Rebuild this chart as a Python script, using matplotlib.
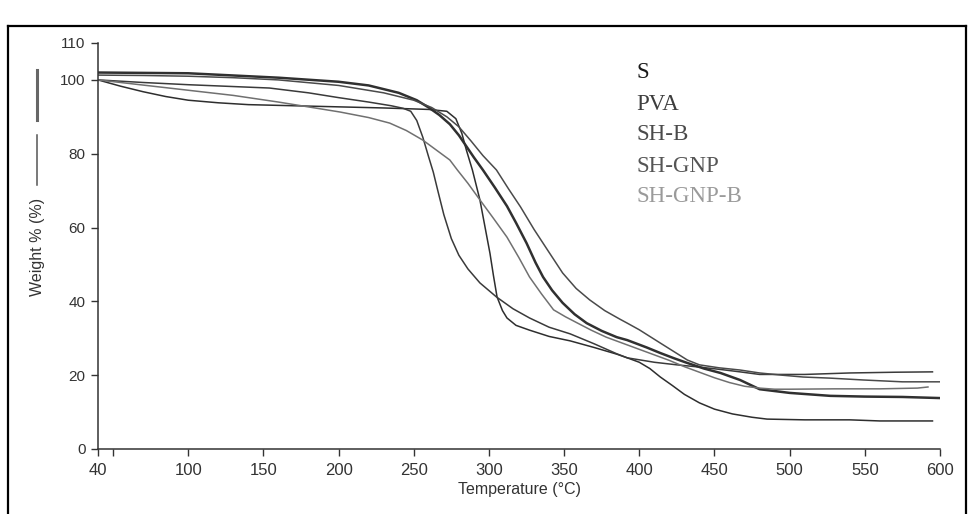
import matplotlib.pyplot as plt
from matplotlib.lines import Line2D

# TGA curves (temperature in C, weight in %)
t_s = [40, 55, 70, 85, 100, 120, 140, 170, 200, 230, 260, 272, 278, 282, 285, 289, 294, 297, 300.7,
       303, 305.4, 309, 312, 318, 327, 340, 354, 370, 385, 392, 400, 407, 414, 422, 430, 440, 450,
       462, 475, 485, 510, 540, 560, 595]
w_s = [100, 98.3, 96.8, 95.5, 94.5, 93.8, 93.3, 93, 92.7, 92.4, 92, 91.5, 89.5, 85.5, 81, 75.6, 67.5,
       61, 53, 47, 41.2, 37.5, 35.5, 33.5, 32.2, 30.5, 29.3, 27.5, 25.7, 24.7, 23.5, 21.8, 19.5, 17.2,
       14.8, 12.5, 10.8, 9.5, 8.6, 8.1, 7.9, 7.9, 7.6, 7.6]

t_pva = [40, 70, 100, 130, 154, 180, 200, 220, 235, 243, 248, 252, 256, 260, 263, 266, 270, 275, 280,
         286, 294, 305, 316, 327, 340, 354, 370, 385, 392, 410, 425, 440, 455, 467, 480, 510, 540, 570, 595]
w_pva = [100, 99.3, 98.7, 98.2, 97.8, 96.5, 95.2, 94, 93, 92.3, 91.5, 89, 84.5, 79, 75, 70, 63.5, 57,
         52.5, 48.8, 45, 41.2, 38, 35.5, 33, 31.2, 28.5, 25.8, 24.7, 23.5, 22.8, 22.2, 21.5, 20.9, 20.2,
         20.2, 20.6, 20.8, 20.9]

t_shb = [40, 70, 100, 130, 160, 200, 220, 240, 252, 260, 267, 274, 280, 285, 290, 296, 304, 312, 318,
         325, 331, 336, 342, 349, 357, 365, 375, 385, 392, 405, 414, 423, 432, 443, 454, 467, 480, 500,
         527, 550, 575, 600]
w_shb = [102, 101.9, 101.8, 101.2, 100.6, 99.5, 98.5, 96.5, 94.5, 92.5, 90.5, 88, 85, 82, 79, 75.6, 70.8,
         65.8, 61.3, 55.8, 50.5, 46.6, 43, 39.6, 36.5, 34.1, 32, 30.3, 29.5, 27.5, 26, 24.6, 23.3, 21.8,
         20.6, 18.7, 16.2, 15.2, 14.4, 14.2, 14.1, 13.8]

t_shgnp = [40, 70, 100, 130, 160, 200, 230, 250, 262, 272, 280, 288, 296, 305, 313, 321, 330, 339, 349,
           358, 367, 377, 387, 392, 400, 414, 423, 432, 440, 453, 467, 480, 495, 509, 527, 549, 575, 600]
w_shgnp = [101.3, 101.2, 101, 100.6, 100, 98.5, 96.5, 94.5, 92.5, 90, 87.3, 83.5, 79.5, 75.6, 70.5, 65.6,
           59.5, 53.9, 47.7, 43.5, 40.4, 37.5, 35.2, 34.1, 32.3, 28.7, 26.4, 24.1, 22.8, 22, 21.4, 20.6,
           20, 19.5, 19.2, 18.7, 18.2, 18.2]

t_shgnpb = [40, 70, 100, 130, 160, 201, 220, 234, 245, 256, 265, 274, 279, 286, 294, 303, 312, 320, 327,
            335, 343, 351, 359, 368, 378, 390, 400, 410, 420, 430, 440, 450, 460, 470, 480, 490, 500,
            530, 560, 585, 592]
w_shgnpb = [100, 98.6, 97.2, 95.8, 94, 91.3, 89.8, 88.3, 86.3, 83.7, 81, 78.3, 75.6, 72, 67.5, 62.5, 57.4,
            51.8, 46.6, 42, 37.7, 35.8, 34.1, 32.2, 30.3, 28.5, 27, 25.5, 24, 22.3, 20.8, 19.3, 18, 17,
            16.5, 16.2, 16.2, 16.3, 16.3, 16.5, 16.8]

names = ['S', 'PVA', 'SH-B', 'SH-GNP', 'SH-GNP-B']
name_colors = ['#1a1a1a', '#3d3d3d', '#4a4a4a', '#555555', '#9a9a9a']

x_ticks = [40, 50, 100, 150, 200, 250, 300, 350, 400, 450, 500, 550, 600]
x_labels = ['40', '', '100', '150', '200', '250', '300', '350', '400', '450', '500', '550', '600']
y_ticks = [0, 20, 40, 60, 80, 100, 110]

W, H = 969, 514
fig = plt.figure(figsize=(W / 100, H / 100), dpi=100)
ax = fig.add_axes([98 / W, 1 - 449 / H, (940 - 98) / W, (449 - 43) / H])

ax.plot(t_s, w_s, color='#2e2e2e', lw=1.1)
ax.plot(t_pva, w_pva, color='#3a3a3a', lw=1.1)
ax.plot(t_shb, w_shb, color='#303030', lw=1.8)
ax.plot(t_shgnp, w_shgnp, color='#4a4a4a', lw=1.1)
ax.plot(t_shgnpb, w_shgnpb, color='#707070', lw=1.1)

ax.set_xlim(40, 600)
ax.set_ylim(0, 110)
ax.set_xticks(x_ticks)
ax.set_xticklabels(x_labels)
ax.set_yticks(y_ticks)
ax.set_yticklabels(['0', '20', '40', '60', '80', '100', '110'])

# only left and bottom axis
ax.spines['right'].set_visible(False)
ax.spines['top'].set_visible(False)
for s in ['left', 'bottom']:
    ax.spines[s].set_color('#333333')
    ax.spines[s].set_linewidth(1.1)
ax.tick_params(axis='both', direction='out', length=5, width=1, color='#333333', labelcolor='#333333')
ax.tick_params(axis='x', labelsize=12, pad=5)
ax.tick_params(axis='y', labelsize=11, pad=4)
for lab in ax.get_xticklabels() + ax.get_yticklabels():
    lab.set_family('Liberation Sans')

ax.set_xlabel('Temperature (°C)', fontsize=11.5, family='Liberation Sans', color='#333333', labelpad=3)
fig.text(37.5 / W, 1 - 247 / H, 'Weight % (%)', rotation=90, ha='center', va='center',
         fontsize=11.5, family='Liberation Sans', color='#333333')

# stray legend line pieces beside the y label
fig.add_artist(Line2D([37 / W, 37 / W], [1 - 70 / H, 1 - 120 / H], color='#666666', lw=2.2))
fig.add_artist(Line2D([37 / W, 37 / W], [1 - 135 / H, 1 - 185 / H], color='#555555', lw=1.1))

# legend drawn as text
legend_y = [73, 105, 135, 167, 197]
for name, c, yy in zip(names, name_colors, legend_y):
    fig.text(636 / W, 1 - yy / H, name, ha='left', va='center', fontsize=16.5,
             family='Liberation Serif', color=c)

# frame around the picture
fig.add_artist(Line2D([8 / W, 8 / W], [0, 1 - 26 / H], color='black', lw=1.6))
fig.add_artist(Line2D([8 / W, 966 / W], [1 - 26 / H, 1 - 26 / H], color='black', lw=1.6))
fig.add_artist(Line2D([966 / W, 966 / W], [0, 1 - 26 / H], color='black', lw=1.6))

fig.savefig('out.png', dpi=100)
